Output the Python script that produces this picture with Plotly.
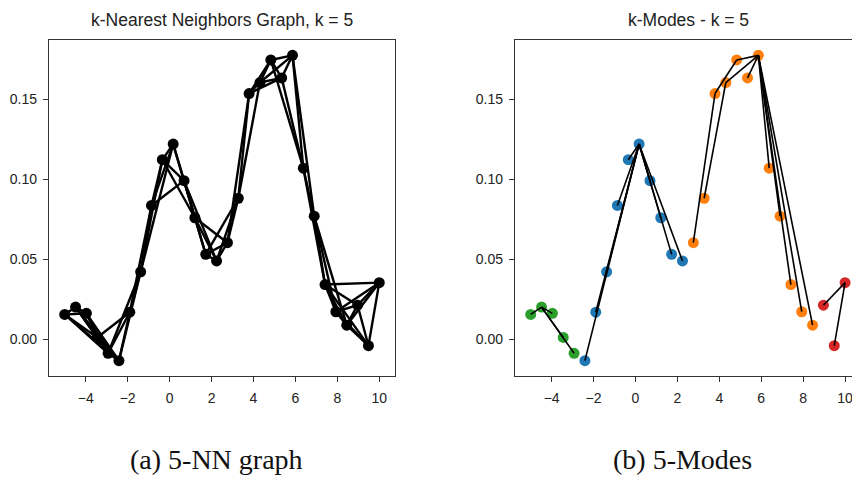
import numpy as np
import plotly.graph_objects as go

# Sample positions and their estimated density values
x_vals = [-5.000, -4.483, -3.966, -3.448, -2.931, -2.414, -1.897, -1.379, -0.862, -0.345,
          0.172, 0.690, 1.207, 1.724, 2.241, 2.759, 3.276, 3.793, 4.310, 4.828,
          5.345, 5.862, 6.379, 6.897, 7.414, 7.931, 8.448, 8.966, 9.483, 10.000]
density = [0.0154, 0.0200, 0.0161, 0.0010, -0.0089, -0.0135, 0.0168, 0.0421, 0.0836, 0.1122,
           0.1220, 0.0991, 0.0759, 0.0530, 0.0489, 0.0603, 0.0881, 0.1536, 0.1605, 0.1746,
           0.1634, 0.1775, 0.1069, 0.0769, 0.0341, 0.0171, 0.0087, 0.0212, -0.0041, 0.0353]

# Cluster assignment (tab10 colour index) and the point each sample climbs to
cluster = [2, 2, 2, 2, 2,
           0, 0, 0, 0, 0, 0, 0, 0, 0, 0,
           1, 1, 1, 1, 1, 1, 1, 1, 1, 1, 1, 1,
           3, 3, 3]
parent = [1, 1, 1, 1, 1,
          10, 10, 10, 10, 10, 10, 10, 10, 10, 10,
          17, 18, 19, 21, 21, 21, 21, 21, 21, 21, 21, 21,
          29, 29, 29]

K = 5
tab10 = ["#1f77b4", "#ff7f0e", "#2ca02c", "#d62728"]

W, H = 852, 478
ax_top, ax_bot = 40, 376
left_dom = [49 / W, 395 / W]
right_dom = [515 / W, 1.0]
y_dom = [1 - ax_bot / H, 1 - ax_top / H]

xs = np.array(x_vals)
ys = np.array(density)
pts = np.column_stack([xs, ys])

# k-nearest-neighbour graph edges
dist = np.sqrt(((pts[:, None, :] - pts[None, :, :]) ** 2).sum(-1))
edges = set()
for i in range(len(xs)):
    for j in np.argsort(dist[i], kind="stable")[1:K + 1]:
        edges.add((min(i, int(j)), max(i, int(j))))

knn_x, knn_y = [], []
for i, j in sorted(edges):
    knn_x += [xs[i], xs[j], None]
    knn_y += [ys[i], ys[j], None]

mode_x, mode_y = [], []
for i, p in enumerate(parent):
    if p != i:
        mode_x += [xs[i], xs[p], None]
        mode_y += [ys[i], ys[p], None]

fig = go.Figure()
fig.add_trace(go.Scatter(x=knn_x, y=knn_y, mode="lines",
                         line=dict(color="black", width=2.4),
                         xaxis="x", yaxis="y", hoverinfo="skip"))
fig.add_trace(go.Scatter(x=x_vals, y=density, mode="markers",
                         marker=dict(color="black", size=11),
                         xaxis="x", yaxis="y"))
fig.add_trace(go.Scatter(x=x_vals, y=density, mode="markers",
                         marker=dict(color=[tab10[c] for c in cluster], size=11),
                         xaxis="x2", yaxis="y2"))
fig.add_trace(go.Scatter(x=mode_x, y=mode_y, mode="lines",
                         line=dict(color="black", width=1.6),
                         xaxis="x2", yaxis="y2", hoverinfo="skip"))

sans = "Liberation Sans, Arial, sans-serif"
tick_font = dict(family=sans, size=14, color="#222")
axis_common = dict(showgrid=False, zeroline=False, showline=True, linecolor="#333",
                   linewidth=1.3, ticks="outside", ticklen=5, tickwidth=1.2,
                   tickcolor="#333", tickfont=tick_font, ticklabeloverflow="allow")
xticks = [-4, -2, 0, 2, 4, 6, 8, 10]
yticks = [0.0, 0.05, 0.10, 0.15]

fig.update_layout(
    width=W, height=H,
    margin=dict(l=0, r=0, t=0, b=0),
    paper_bgcolor="white", plot_bgcolor="white",
    showlegend=False,
    xaxis=dict(domain=left_dom, range=[-5.75, 10.75], tickvals=xticks,
               mirror=True, anchor="y", ticklabelstandoff=4, **axis_common),
    yaxis=dict(domain=y_dom, range=[-0.0231, 0.1871], tickvals=yticks,
               tickformat=".2f", mirror=True, anchor="x", ticklabelstandoff=3,
               **axis_common),
    xaxis2=dict(domain=right_dom, range=[-5.75, 10.33], tickvals=xticks,
                mirror=True, anchor="y2", ticklabelstandoff=4, **axis_common),
    yaxis2=dict(domain=y_dom, range=[-0.0231, 0.1871], tickvals=yticks,
                tickformat=".2f", mirror=False, anchor="x2", ticklabelstandoff=3,
                **axis_common),
)

title_font = dict(family=sans, size=17.5, color="#222")
cap_font = dict(family="Liberation Serif, DejaVu Serif", size=28, color="#111")
fig.add_annotation(text="k-Nearest Neighbors Graph, k = 5", x=222 / W, y=1 - 20 / H,
                   xref="paper", yref="paper", showarrow=False, font=title_font,
                   xanchor="center", yanchor="middle")
fig.add_annotation(text="k-Modes - k = 5", x=688 / W, y=1 - 20 / H,
                   xref="paper", yref="paper", showarrow=False, font=title_font,
                   xanchor="center", yanchor="middle")
fig.add_annotation(text="(a) 5-NN graph", x=216 / W, y=1 - 459 / H,
                   xref="paper", yref="paper", showarrow=False, font=cap_font,
                   xanchor="center", yanchor="middle")
fig.add_annotation(text="(b) 5-Modes", x=682 / W, y=1 - 459 / H,
                   xref="paper", yref="paper", showarrow=False, font=cap_font,
                   xanchor="center", yanchor="middle")

fig.write_html("out.html")
